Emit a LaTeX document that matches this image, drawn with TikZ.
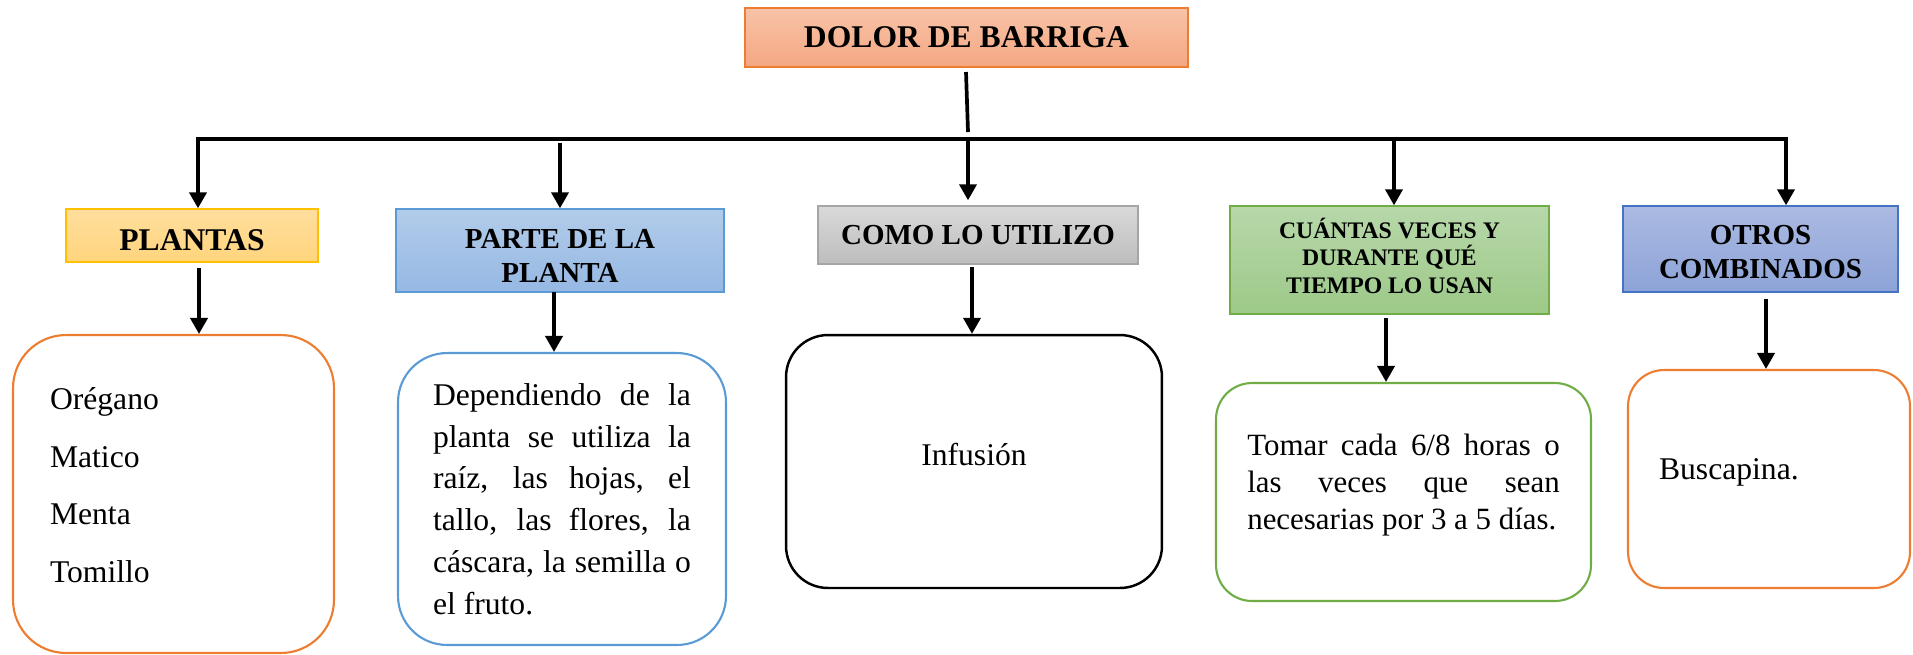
\documentclass[tikz,border=0pt]{standalone}
\usepackage{fontspec}
\setmainfont{Liberation Serif}
\usetikzlibrary{arrows.meta, positioning, shapes}

\definecolor{salmonline}{HTML}{ED7D31}
\definecolor{salmontop}{HTML}{F8C3A8}
\definecolor{salmonbot}{HTML}{F4A782}
\definecolor{goldline}{HTML}{FFC000}
\definecolor{goldtop}{HTML}{FFDE9E}
\definecolor{goldbot}{HTML}{FFD47C}
\definecolor{skyline}{HTML}{5B9BD5}
\definecolor{skytop}{HTML}{B2CCEA}
\definecolor{skybot}{HTML}{96B8E3}
\definecolor{greyline}{HTML}{A5A5A5}
\definecolor{greytop}{HTML}{D9D9D9}
\definecolor{greybot}{HTML}{BDBDBD}
\definecolor{leafline}{HTML}{70AD47}
\definecolor{leaftop}{HTML}{B7D8AA}
\definecolor{leafbot}{HTML}{9DC988}
\definecolor{navyline}{HTML}{4472C4}
\definecolor{navytop}{HTML}{ABBAE2}
\definecolor{navybot}{HTML}{8DA3D8}

\begin{document}
\begin{tikzpicture}[
    x=0.02cm, y=-0.02cm,
    % Define node styles
    head/.style={rectangle, draw, line width=0.8pt, align=center, inner sep=0pt,
                 font=\bfseries\fontsize{16.5}{19}\selectfont},
    card/.style={rectangle, draw, line width=1.2pt, fill=white, inner sep=0pt,
                 font=\fontsize{18}{22}\selectfont},
    link/.style={line width=2.1pt},
    tip/.style={-{Triangle[length=0.32cm, width=0.34cm]}, line width=2.1pt}
]
    \useasboundingbox (0,0) rectangle (1913,654);

    % Create nodes
    \node[head, minimum width=8.86cm, minimum height=1.18cm, draw=salmonline,
          top color=salmontop, bottom color=salmonbot,
          font=\bfseries\fontsize{18}{20}\selectfont] (dolor) at (966.5,37.5) {DOLOR DE BARRIGA};

    \node[head, minimum width=5.04cm, minimum height=1.06cm, draw=goldline,
          top color=goldtop, bottom color=goldbot, text height=0.6cm, text depth=0cm,
          font=\bfseries\fontsize{18}{20}\selectfont] (plantas) at (192,235.5) {PLANTAS};
    \node[head, minimum width=6.56cm, minimum height=1.66cm, draw=skyline,
          top color=skytop, bottom color=skybot, text height=1.26cm, text depth=0cm]
          (parte) at (560,250.5) {PARTE DE LA\\PLANTA};
    \node[head, minimum width=6.4cm, minimum height=1.16cm, draw=greyline,
          top color=greytop, bottom color=greybot] (como) at (978,235) {COMO LO UTILIZO};
    \node[head, minimum width=6.38cm, minimum height=2.16cm, draw=leafline,
          top color=leaftop, bottom color=leafbot, text height=1.5cm, text depth=0.18cm,
          font=\bfseries\fontsize{13.5}{15.6}\selectfont] (cuantas) at (1389.5,260)
          {CUÁNTAS VECES Y\\DURANTE QUÉ\\TIEMPO LO USAN};
    \node[head, minimum width=5.5cm, minimum height=1.72cm, draw=navyline,
          top color=navytop, bottom color=navybot, text height=1.16cm, text depth=0cm]
          (otros) at (1760.5,249) {OTROS\\COMBINADOS};

    \node[card, draw=salmonline, rounded corners=1.06cm, minimum width=6.42cm, minimum height=6.36cm,
          text width=4.94cm, align=left, text depth=3.84cm,
          font=\fontsize{18}{33}\selectfont] (lista) at (173.5,494)
          {Orégano\\Matico\\Menta\\Tomillo};
    \node[card, draw=skyline, rounded corners=0.98cm, minimum width=6.56cm, minimum height=5.84cm,
          text width=5.16cm, align=justify, font=\fontsize{18}{23.8}\selectfont] (partes) at (562,499)
          {Dependiendo de la\linebreak planta se utiliza la\linebreak raíz, las hojas, el\linebreak
           tallo, las flores, la\linebreak cáscara, la semilla o\linebreak el fruto.};
    \node[card, draw=black, line width=1.4pt, rounded corners=0.84cm, minimum width=7.52cm,
          minimum height=5.06cm, text depth=0.3cm] (uso) at (974,461.5) {Infusión};
    \node[card, draw=leafline, rounded corners=0.72cm, minimum width=7.5cm, minimum height=4.36cm,
          text width=6.25cm, align=justify, text depth=1.89cm,
          font=\fontsize{17.6}{21}\selectfont] (tiempo) at (1403.5,492)
          {Tomar cada 6/8 horas o\linebreak las veces que sean\linebreak necesarias por 3 a 5 días.};
    \node[card, draw=salmonline, rounded corners=0.72cm, minimum width=5.64cm, minimum height=4.36cm,
          text width=4.4cm, align=left, text depth=0.4cm] (combo) at (1769,479) {Buscapina.};

    % Bus and branch points
    \coordinate (drop) at (966,72);
    \coordinate (knee) at (968,132);
    \coordinate (hub) at (968,139);
    \coordinate (busL) at (198,139);
    \coordinate (busR) at (1786,139);
    \coordinate (fork2) at (560,143);
    \coordinate (fork4) at (1394,139);

    % Draw arrows between nodes
    \draw[link] (drop) -- (knee);
    \draw[line width=2.2pt, {Triangle[length=0.32cm, width=0.34cm]}-{Triangle[length=0.32cm, width=0.34cm]}]
        (busL |- plantas.north) -- (busL) -- (busR) -- (busR |- otros.north);
    \draw[tip] (fork2) -- (parte.north);
    \draw[tip] (hub) -- ([yshift=0.1cm]hub |- como.north);
    \draw[tip] (fork4) -- (fork4 |- cuantas.north);

    \coordinate (out1) at (199,268);
    \coordinate (out2) at (554,292);
    \coordinate (out3) at (972,267);
    \coordinate (out4) at (1386,318);
    \coordinate (out5) at (1766,299);
    \draw[tip] (out1) -- (out1 |- lista.north);
    \draw[tip] (out2) -- (out2 |- partes.north);
    \draw[tip] (out3) -- (out3 |- uso.north);
    \draw[tip] (out4) -- (out4 |- tiempo.north);
    \draw[tip] (out5) -- (out5 |- combo.north);
\end{tikzpicture}
\end{document}
